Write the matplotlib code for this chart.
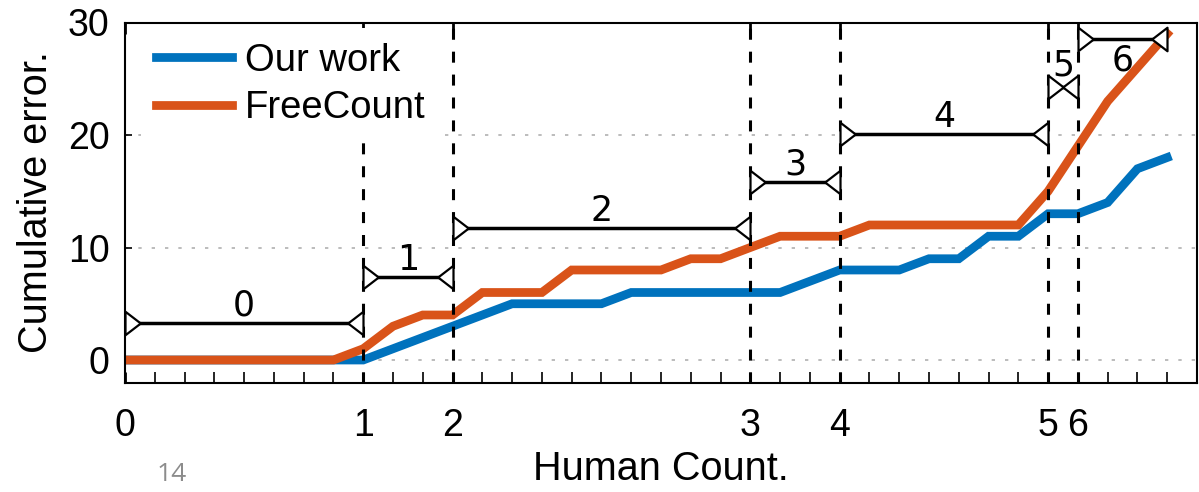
import matplotlib
matplotlib.use("Agg")
import matplotlib.pyplot as plt
from matplotlib.path import Path
from matplotlib.ticker import FixedLocator

# Samples sorted by human count; cumulative counting error per method
sample_idx = list(range(36))
our_work = [0, 0, 0, 0, 0, 0, 0, 0, 0, 1, 2, 3, 4, 5, 5, 5, 5, 6, 6, 6,
            6, 6, 6, 7, 8, 8, 8, 9, 9, 11, 11, 13, 13, 14, 17, 18]
freecount = [0, 0, 0, 0, 0, 0, 0, 0, 1, 3, 4, 4, 6, 6, 6, 8, 8, 8, 8, 9,
             9, 10, 11, 11, 11, 12, 12, 12, 12, 12, 12, 15, 19, 23, 26, 29]

# Human-count groups: first and last sample index of each group
count_labels = ["0", "1", "2", "3", "4", "5", "6"]
group_start = [0, 8, 11, 21, 24, 31, 32]
group_end = [8, 11, 21, 24, 31, 32, 35]

# Layout of the span markers (height in data units)
span_height = [3.3, 7.4, 11.7, 15.85, 20.1, 24.3, 28.5]

BLUE = "#0072BD"
ORANGE = "#D95319"
AX_FONT = "Liberation Sans"

fig = plt.figure(figsize=(11.99, 4.92), dpi=100)
ax = fig.add_axes([125 / 1199, 1 - 382.5 / 492, 1072 / 1199, 360 / 492])

ax.plot(sample_idx, our_work, color=BLUE, lw=6.3, label="Our work",
        solid_joinstyle="miter", zorder=2)
ax.plot(sample_idx, freecount, color=ORANGE, lw=6.3, label="FreeCount",
        solid_joinstyle="miter", zorder=2)

# Group boundaries
for xb in group_start[1:]:
    ax.axvline(xb, color="black", lw=2.2, linestyle=(0, (3.6, 3.9)), zorder=3)

# Span markers: a line with open triangles at both ends pointing inward
tri_right = Path([(0, -10), (0, 10), (13, 0), (0, -10)],
                 [Path.MOVETO, Path.LINETO, Path.LINETO, Path.CLOSEPOLY])
tri_left = Path([(0, -10), (0, 10), (-13, 0), (0, -10)],
                [Path.MOVETO, Path.LINETO, Path.LINETO, Path.CLOSEPOLY])
for lab, x0, x1, h in zip(count_labels, group_start, group_end, span_height):
    ax.plot([x0, x1], [h, h], color="black", lw=2.5, zorder=4,
            solid_capstyle="butt")
    for xm, mk in ((x0, tri_right), (x1, tri_left)):
        ax.plot([xm], [h], marker=mk, ms=22, mfc="white", mec="black",
                mew=1.6, zorder=5, clip_on=False)
    xc = (x0 + x1) / 2
    if lab == "6":
        ax.annotate(lab, (xc, h), xytext=(0, -3), textcoords="offset points",
                    ha="center", va="top", fontsize=25,
                    family="DejaVu Sans", zorder=6)
    else:
        off = 3 if lab == "5" else 0
        ax.annotate(lab, (xc, h), xytext=(0, off), textcoords="offset points",
                    ha="center", va="bottom", fontsize=25,
                    family="DejaVu Sans", zorder=6)

ax.set_xlim(0, 36)
ax.set_ylim(-2, 30)

ax.xaxis.set_major_locator(FixedLocator(group_start))
ax.set_xticklabels(count_labels)
ax.xaxis.set_minor_locator(FixedLocator(
    [i for i in range(37) if i not in group_start]))
ax.set_yticks([0, 10, 20, 30])

ax.tick_params(axis="x", which="major", direction="in", length=8, width=2,
               top=True, pad=18, labelsize=27, colors="black")
ax.tick_params(axis="x", which="minor", direction="in", length=8, width=1.2,
               top=False)
ax.tick_params(axis="y", which="major", direction="in", length=5, width=1.2,
               pad=11, labelsize=27)
for lbl in ax.get_xticklabels() + ax.get_yticklabels():
    lbl.set_family(AX_FONT)

ax.yaxis.grid(True, color="#b0b0b0", lw=1.2, linestyle=(0, (2, 6)))
ax.xaxis.grid(False)
ax.set_axisbelow(True)
for sp in ax.spines.values():
    sp.set_linewidth(1.5)
    sp.set_color("black")

ax.set_xlabel("Human Count.", fontsize=28.5, family=AX_FONT, labelpad=5)
ax.set_ylabel("Cumulative error.", fontsize=28.5, family=AX_FONT, labelpad=9)

leg = ax.legend(loc="upper left", bbox_to_anchor=(0.0146, 0.986),
                borderaxespad=0, borderpad=0.4, labelspacing=0.3,
                handlelength=2.0, handletextpad=0.32,
                prop={"family": AX_FONT, "size": 27.5},
                frameon=True, fancybox=False, framealpha=1,
                facecolor="white", edgecolor="none")
leg.set_zorder(10)

fig.text(157 / 1199, 1 - 481 / 492, "14", fontsize=19, color="#8c8c8c",
         family="Open Sans", ha="left", va="baseline")

fig.savefig("out.png", dpi=100)
